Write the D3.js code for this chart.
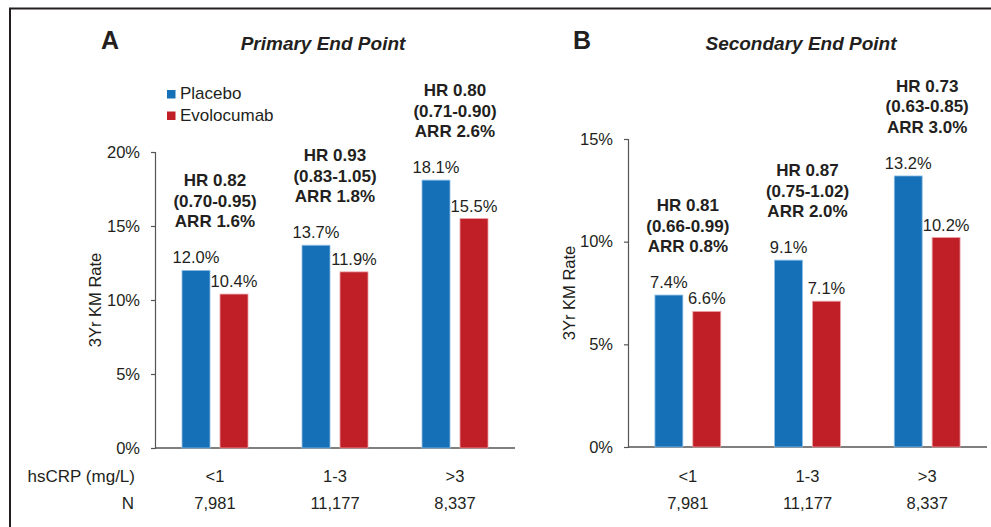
<!DOCTYPE html>
<html>
<head>
<meta charset="utf-8">
<script src="https://cdn.jsdelivr.net/npm/d3@7"></script>
<style>
  html, body { margin: 0; padding: 0; background: #fff; }
  text { font-family: "Liberation Sans", Arial, sans-serif; fill: #231f20; }
</style>
</head>
<body>
<script>
var width = 991, height = 527;

// data
var categories = ["<1", "1-3", ">3"];
var nCounts = ["7,981", "11,177", "8,337"];
var series = ["Placebo", "Evolocumab"];
var colors = ["#1570b8", "#c01f27"];
var strokes = ["#8fc0e6", "#eaa0a4"];

var primaryPlacebo = [12.0, 13.7, 18.1];
var primaryEvolocumab = [10.4, 11.9, 15.5];
var primaryHR = ["HR 0.82", "HR 0.93", "HR 0.80"];
var primaryCI = ["(0.70-0.95)", "(0.83-1.05)", "(0.71-0.90)"];
var primaryARR = ["ARR 1.6%", "ARR 1.8%", "ARR 2.6%"];
var primaryTicks = [0, 5, 10, 15, 20];

var secondaryPlacebo = [7.4, 9.1, 13.2];
var secondaryEvolocumab = [6.6, 7.1, 10.2];
var secondaryHR = ["HR 0.81", "HR 0.87", "HR 0.73"];
var secondaryCI = ["(0.66-0.99)", "(0.75-1.02)", "(0.63-0.85)"];
var secondaryARR = ["ARR 0.8%", "ARR 2.0%", "ARR 3.0%"];
var secondaryTicks = [0, 5, 10, 15];

var svg = d3.select("body").append("svg")
    .attr("width", width)
    .attr("height", height);

// outer frame (top and left edges visible)
svg.append("path")
    .attr("d", "M10,527 L10,8.5 L991,8.5")
    .attr("fill", "none")
    .attr("stroke", "#231f20")
    .attr("stroke-width", 2);

function drawPanel(opt) {
    var g = svg.append("g");

    var y = d3.scaleLinear().domain([0, opt.max]).range([opt.y0, opt.yTop]);
    var x0 = d3.scaleBand().domain(categories).range([opt.xLeft, opt.xRight])
        .paddingInner(0.45).paddingOuter(0.225);
    var x1 = d3.scaleBand().domain(series).range([0, x0.bandwidth()]).paddingInner(0.263);

    // y axis
    var yAxis = d3.axisLeft(y).tickValues(opt.ticks).tickSize(4).tickPadding(11)
        .tickFormat(function (d) { return d + "%"; });
    var ay = g.append("g").attr("transform", "translate(" + opt.xLeft + ",0)").call(yAxis);
    ay.selectAll("path, line").attr("stroke", "#555").attr("stroke-width", 1.2);
    ay.selectAll("text").style("font-size", "16.5px").attr("fill", "#231f20")
        .style("font-family", "Liberation Sans, Arial, sans-serif");

    // x baseline
    g.append("line")
        .attr("x1", opt.xLeft).attr("x2", opt.xRight)
        .attr("y1", y(0)).attr("y2", y(0))
        .attr("stroke", "#555").attr("stroke-width", 1.5);

    var rows = categories.map(function (c, i) {
        return { cat: c, vals: [opt.placebo[i], opt.evolocumab[i]], i: i };
    });

    var groups = g.selectAll(".grp").data(rows).enter().append("g")
        .attr("class", "grp")
        .attr("transform", function (d) { return "translate(" + x0(d.cat) + ",0)"; });

    groups.selectAll("rect").data(function (d) { return d.vals; }).enter().append("rect")
        .attr("x", function (d, j) { return x1(series[j]); })
        .attr("y", function (d) { return y(d); })
        .attr("width", x1.bandwidth())
        .attr("height", function (d) { return y(0) - y(d); })
        .attr("fill", function (d, j) { return colors[j]; })
        .attr("stroke", function (d, j) { return strokes[j]; })
        .attr("stroke-width", 0.8);

    groups.selectAll(".val").data(function (d) { return d.vals; }).enter().append("text")
        .attr("class", "val")
        .attr("x", function (d, j) { return x1(series[j]) + x1.bandwidth() / 2; })
        .attr("y", function (d) { return y(d) - 7; })
        .attr("text-anchor", "middle")
        .style("font-size", "16.5px")
        .text(function (d) { return d.toFixed(1) + "%"; });

    // HR annotations
    groups.each(function (d) {
        var base = y(d.vals[0]) - 43;
        var lines = [opt.hr[d.i], opt.ci[d.i], opt.arr[d.i]];
        d3.select(this).selectAll(".hr").data(lines).enter().append("text")
            .attr("class", "hr")
            .attr("x", x0.bandwidth() / 2)
            .attr("y", function (t, k) { return base - (2 - k) * 20.5; })
            .attr("text-anchor", "middle")
            .style("font-size", "17px")
            .style("font-weight", "bold")
            .text(function (t) { return t; });
    });

    // category and N rows
    g.selectAll(".cat").data(categories).enter().append("text")
        .attr("x", function (d) { return x0(d) + x0.bandwidth() / 2; })
        .attr("y", 482)
        .attr("text-anchor", "middle")
        .style("font-size", "16.5px")
        .text(function (d) { return d; });

    g.selectAll(".n").data(nCounts).enter().append("text")
        .attr("x", function (d, i) { return x0(categories[i]) + x0.bandwidth() / 2; })
        .attr("y", 509)
        .attr("text-anchor", "middle")
        .style("font-size", "16.5px")
        .text(function (d) { return d; });

    // y axis title
    g.append("text")
        .attr("transform", "translate(" + opt.titleX + "," + opt.titleY + ") rotate(-90)")
        .attr("text-anchor", "middle")
        .style("font-size", "16.5px")
        .text("3Yr KM Rate");

    // panel letter and title
    g.append("text")
        .attr("x", opt.letterX).attr("y", 49)
        .attr("text-anchor", "middle")
        .style("font-size", "25px").style("font-weight", "bold")
        .text(opt.letter);

    g.append("text")
        .attr("x", opt.headX).attr("y", 50)
        .attr("text-anchor", "middle")
        .style("font-size", "19px").style("font-weight", "bold").style("font-style", "italic")
        .text(opt.title);
}

drawPanel({
    max: 20, ticks: primaryTicks, y0: 448, yTop: 152, xLeft: 155, xRight: 515,
    placebo: primaryPlacebo, evolocumab: primaryEvolocumab,
    hr: primaryHR, ci: primaryCI, arr: primaryARR,
    titleX: 101, titleY: 300, letter: "A", letterX: 110, title: "Primary End Point", headX: 323
});

drawPanel({
    max: 15, ticks: secondaryTicks, y0: 447, yTop: 139, xLeft: 628, xRight: 987,
    placebo: secondaryPlacebo, evolocumab: secondaryEvolocumab,
    hr: secondaryHR, ci: secondaryCI, arr: secondaryARR,
    titleX: 575, titleY: 293, letter: "B", letterX: 582, title: "Secondary End Point", headX: 801
});

// row labels under panel A
svg.append("text").attr("x", 135).attr("y", 482).attr("text-anchor", "end")
    .style("font-size", "17px").text("hsCRP (mg/L)");
svg.append("text").attr("x", 134).attr("y", 509).attr("text-anchor", "end")
    .style("font-size", "17px").text("N");

// legend
var legend = svg.append("g").attr("transform", "translate(167,90)");
legend.selectAll("rect").data(series).enter().append("rect")
    .attr("x", 0).attr("y", function (d, i) { return i * 21.5; })
    .attr("width", 8.5).attr("height", 8.5)
    .attr("fill", function (d, i) { return colors[i]; });
legend.selectAll("text").data(series).enter().append("text")
    .attr("x", 13).attr("y", function (d, i) { return 9 + i * 21.5; })
    .style("font-size", "17px")
    .text(function (d) { return d; });
</script>
</body>
</html>
